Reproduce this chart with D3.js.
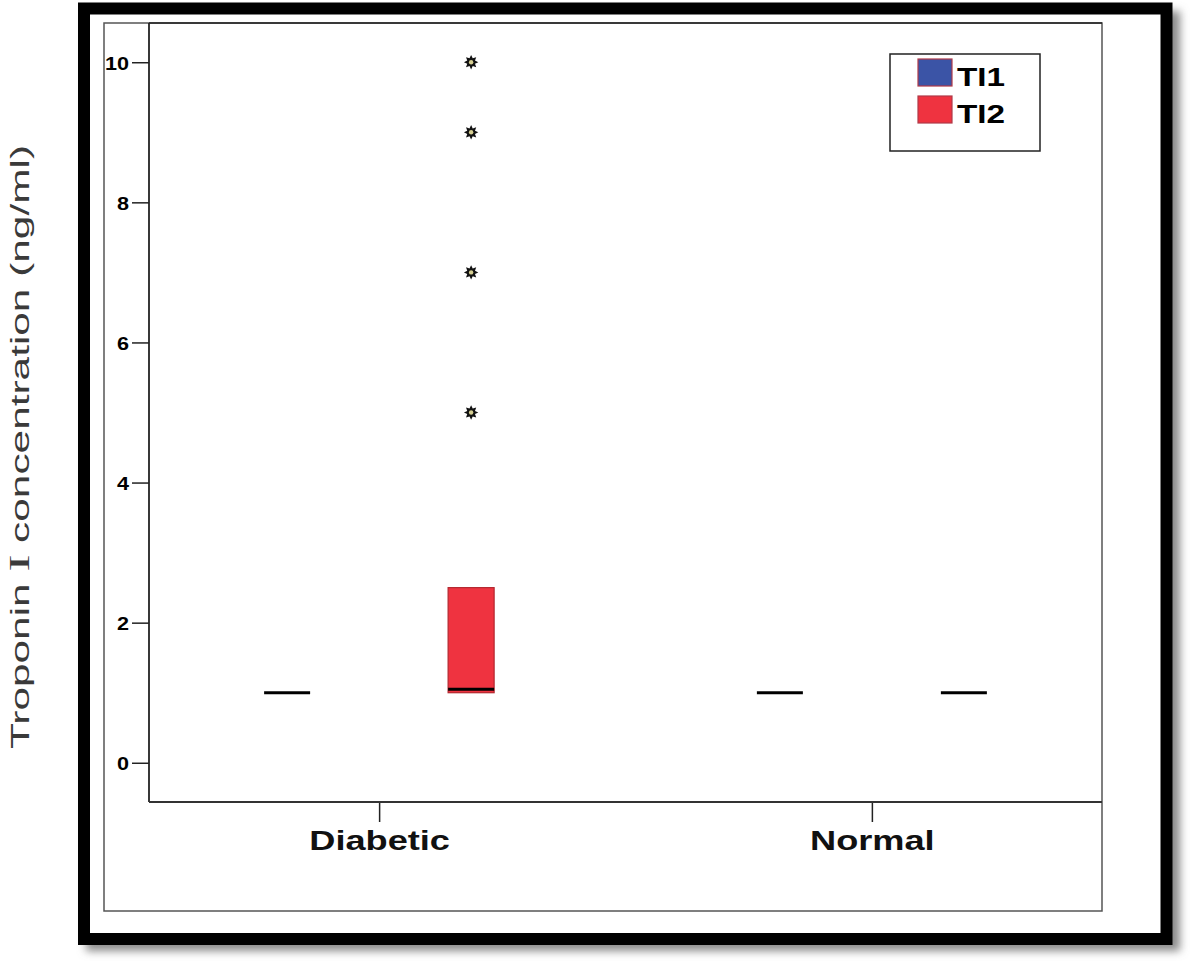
<!DOCTYPE html>
<html>
<head>
<meta charset="utf-8">
<script src="https://cdn.jsdelivr.net/npm/d3@7"></script>
<style>
    body { margin: 0; background: #fff; }
    svg { display: block; }
    text { font-family: "Liberation Sans", Arial, sans-serif; }
</style>
</head>
<body>
<svg id="chart" width="1200" height="962"></svg>
<script>
// data
var groups = ["Diabetic", "Normal"];
var series = ["TI1", "TI2"];
var seriesColors = ["#3b54a6", "#ef3340"];
var yTicks = [0, 2, 4, 6, 8, 10];

// box statistics per group / series
var boxStats = [
    { group: "Diabetic", series: "TI1", min: 1.0, q1: 1.0, median: 1.0, q3: 1.0, max: 1.0 },
    { group: "Diabetic", series: "TI2", min: 1.0, q1: 1.0, median: 1.05, q3: 2.5, max: 2.5 },
    { group: "Normal", series: "TI1", min: 1.0, q1: 1.0, median: 1.0, q3: 1.0, max: 1.0 },
    { group: "Normal", series: "TI2", min: 1.0, q1: 1.0, median: 1.0, q3: 1.0, max: 1.0 }
];

// extreme values (asterisks)
var extremes = [
    { group: "Diabetic", series: "TI2", value: 5 },
    { group: "Diabetic", series: "TI2", value: 7 },
    { group: "Diabetic", series: "TI2", value: 9 },
    { group: "Diabetic", series: "TI2", value: 10 }
];

var svg = d3.select("#chart");
var plot = { left: 149, right: 1102, top: 23, bottom: 802 };

var defs = svg.append("defs");
defs.append("filter")
    .attr("id", "blur")
    .attr("x", "-5%").attr("y", "-5%")
    .attr("width", "110%").attr("height", "110%")
    .append("feGaussianBlur")
    .attr("stdDeviation", 4);

// frame with shadow
svg.append("rect")
    .attr("x", 86).attr("y", 11)
    .attr("width", 1094).attr("height", 940)
    .attr("fill", "#8a8a8a")
    .attr("filter", "url(#blur)");
svg.append("rect")
    .attr("x", 84).attr("y", 8.5)
    .attr("width", 1082.5).attr("height", 930.5)
    .attr("fill", "#fff")
    .attr("stroke", "#000")
    .attr("stroke-width", 12);

// inner frame
svg.append("rect")
    .attr("x", 104).attr("y", 23)
    .attr("width", plot.right - 104).attr("height", 911 - 23)
    .attr("fill", "none")
    .attr("stroke", "#555")
    .attr("stroke-width", 1.5);

var y = d3.scaleLinear()
    .domain([-0.56, 10.56])
    .range([plot.bottom, plot.top]);

var x = d3.scalePoint()
    .domain(groups)
    .range([plot.left, plot.right])
    .padding(0.467);

var xSub = d3.scaleBand()
    .domain(series)
    .range([-184, 184]);

var color = d3.scaleOrdinal().domain(series).range(seriesColors);
var boxWidth = xSub.bandwidth() * 0.25;

function cx(d) {
    return x(d.group) + xSub(d.series) + xSub.bandwidth() / 2;
}

// y axis
var yAxis = svg.append("g")
    .attr("transform", "translate(" + plot.left + ",0)")
    .call(d3.axisLeft(y).tickValues(yTicks).tickSize(17).tickPadding(3).tickSizeOuter(0));
yAxis.select(".domain").remove();
yAxis.selectAll(".tick line").attr("stroke", "#222").attr("stroke-width", 1.5);
yAxis.selectAll(".tick text")
    .attr("fill", "#000")
    .attr("font-size", 18)
    .attr("font-weight", "bold")
    .attr("dy", "0.38em")
    .attr("transform", "translate(-20,0) scale(1.2,1) translate(20,0)");

// x axis
var xAxis = svg.append("g")
    .attr("transform", "translate(0," + plot.bottom + ")")
    .call(d3.axisBottom(x).tickSize(20).tickPadding(0).tickSizeOuter(0));
xAxis.select(".domain").remove();
xAxis.selectAll(".tick line").attr("stroke", "#222").attr("stroke-width", 1.5);
xAxis.selectAll(".tick text")
    .attr("fill", "#111")
    .attr("font-size", 27)
    .attr("font-weight", "bold")
    .attr("y", 48)
    .attr("dy", 0)
    .attr("transform", "scale(1.34,1)");

// plot borders
svg.append("line")
    .attr("x1", plot.left).attr("x2", plot.left)
    .attr("y1", plot.top).attr("y2", plot.bottom)
    .attr("stroke", "#222").attr("stroke-width", 1.8);
svg.append("line")
    .attr("x1", plot.left).attr("x2", plot.right)
    .attr("y1", plot.bottom).attr("y2", plot.bottom)
    .attr("stroke", "#333").attr("stroke-width", 2);
svg.append("line")
    .attr("x1", plot.left).attr("x2", plot.right)
    .attr("y1", plot.top).attr("y2", plot.top)
    .attr("stroke", "#222").attr("stroke-width", 1.5);

// boxes
var boxes = svg.append("g").selectAll("g")
    .data(boxStats)
    .enter().append("g");

boxes.append("line")
    .attr("x1", cx).attr("x2", cx)
    .attr("y1", function(d) { return y(d.q3); })
    .attr("y2", function(d) { return y(d.max); })
    .attr("stroke", "#333");
boxes.append("line")
    .attr("x1", cx).attr("x2", cx)
    .attr("y1", function(d) { return y(d.q1); })
    .attr("y2", function(d) { return y(d.min); })
    .attr("stroke", "#333");

boxes.filter(function(d) { return d.q3 > d.q1; })
    .append("rect")
    .attr("x", function(d) { return cx(d) - boxWidth / 2; })
    .attr("y", function(d) { return y(d.q3); })
    .attr("width", boxWidth)
    .attr("height", function(d) { return y(d.q1) - y(d.q3); })
    .attr("fill", function(d) { return color(d.series); })
    .attr("stroke", "#b3262e")
    .attr("stroke-width", 1.2);

boxes.append("line")
    .attr("x1", function(d) { return cx(d) - boxWidth / 2; })
    .attr("x2", function(d) { return cx(d) + boxWidth / 2; })
    .attr("y1", function(d) { return y(d.median); })
    .attr("y2", function(d) { return y(d.median); })
    .attr("stroke", "#000")
    .attr("stroke-width", 3);

// extreme asterisks
var starPath = d3.lineRadial().curve(d3.curveLinearClosed)(
    d3.range(16).map(function(i) { return [i * Math.PI / 8, i % 2 ? 4.2 : 7.2]; })
);
var stars = svg.append("g").selectAll("g")
    .data(extremes)
    .enter().append("g")
    .attr("transform", function(d) { return "translate(" + cx(d) + "," + y(d.value) + ")"; });
stars.append("path").attr("d", starPath).attr("fill", "#111");
stars.append("circle").attr("r", 2.2).attr("fill", "#d6cf92");

// legend
var legend = svg.append("g");
legend.append("rect")
    .attr("x", 890).attr("y", 54)
    .attr("width", 150).attr("height", 97)
    .attr("fill", "#fff")
    .attr("stroke", "#222")
    .attr("stroke-width", 1.5);
var items = legend.selectAll("g")
    .data(series)
    .enter().append("g")
    .attr("transform", function(d, i) { return "translate(918," + (59 + i * 37) + ")"; });
items.append("rect")
    .attr("width", 34).attr("height", 27)
    .attr("fill", function(d) { return color(d); })
    .attr("stroke", "#b03a48")
    .attr("stroke-width", 1.2);
items.append("text")
    .attr("x", 39).attr("y", 27)
    .attr("font-size", 26)
    .attr("font-weight", "bold")
    .attr("fill", "#000")
    .attr("transform", "translate(39,0) scale(1.28,1) translate(-39,0)")
    .text(function(d) { return d; });

// y axis title
var title = svg.append("text")
    .attr("transform", "translate(29,447) rotate(-90)")
    .attr("text-anchor", "middle")
    .attr("font-size", 25)
    .attr("fill", "#3a3a3a")
    .attr("textLength", 604)
    .attr("lengthAdjust", "spacingAndGlyphs");
title.append("tspan").text("Troponin ");
title.append("tspan").attr("font-family", "Liberation Serif, serif").attr("font-size", 30).text("I");
title.append("tspan").text(" concentration (ng/ml)");
</script>
</body>
</html>
